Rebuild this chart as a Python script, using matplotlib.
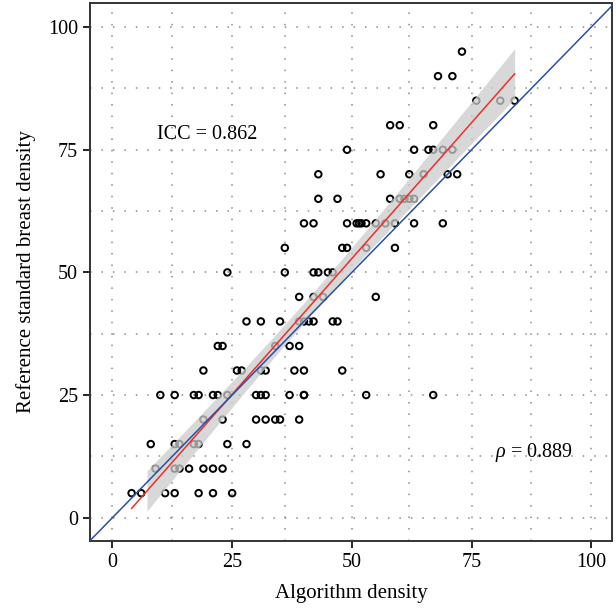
import numpy as np
import matplotlib
import matplotlib.pyplot as plt

matplotlib.use('Agg')

plt.rcParams['font.family'] = ['Liberation Serif', 'DejaVu Serif']
plt.rcParams['mathtext.fontset'] = 'custom'
plt.rcParams['mathtext.it'] = 'Liberation Serif:italic'

# reference standard density rows (5% steps) and algorithm density values read per row
rows = {
    5: [4, 6, 11, 13, 18, 21, 25],
    10: [9, 13, 14, 16, 19, 21, 23],
    15: [8, 13, 14, 17, 18, 24, 28],
    20: [19, 23, 30, 32, 34, 35, 39],
    25: [10, 13, 17, 18, 21, 22, 24, 30, 31, 32, 37, 40, 40, 53, 67],
    30: [19, 26, 27, 31, 32, 38, 40, 48],
    35: [22, 23, 34, 37, 39],
    40: [28, 31, 35, 39, 40, 41, 42, 46, 47],
    45: [39, 42, 44, 55],
    50: [24, 36, 42, 43, 45, 46],
    55: [36, 48, 49, 53, 59],
    60: [40, 42, 49, 51, 51.5, 52, 53, 55, 57, 59, 63, 69],
    65: [43, 47, 58, 60, 61, 62, 63],
    70: [43, 56, 62, 65, 70, 72],
    75: [49, 63, 66, 67, 69, 71],
    80: [58, 60, 67],
    85: [76, 81, 84],
    90: [68, 71],
    95: [73],
}
algorithm = np.array([x for y in rows for x in rows[y]], dtype=float)
reference = np.array([y for y in rows for x in rows[y]], dtype=float)

icc_text = "ICC = 0.862"
rho_text = r"$\it{\rho}$ = 0.889"
ticks = [0, 25, 50, 75, 100]
grid_x = [0, 12.5, 25, 36, 50, 62, 75, 87.5, 100]
grid_y = [0, 12.5, 25, 37.5, 50, 62.5, 75, 87.5, 100]
band_start = 7

# linear fit and 95% confidence band
n = len(algorithm)
slope, intercept = np.polyfit(algorithm, reference, 1)
resid = reference - (intercept + slope * algorithm)
s = np.sqrt(np.sum(resid ** 2) / (n - 2))
xbar = algorithm.mean()
sxx = np.sum((algorithm - xbar) ** 2)
xs = np.linspace(algorithm.min(), algorithm.max(), 200)
fit = intercept + slope * xs
se = s * np.sqrt(1 / n + (xs - xbar) ** 2 / sxx)
lo, hi = fit - 1.98 * se, fit + 1.98 * se
mask = xs >= band_start

fig = plt.figure(figsize=(6.16, 6.11), dpi=100)
ax = fig.add_axes([0.146, 0.115, 0.848, 0.880])

for g in grid_x:
    ax.axvline(g, color='#8a8a8a', lw=1.1, ls=(0, (1, 6.5)), zorder=0)
for g in grid_y:
    ax.axhline(g, color='#8a8a8a', lw=1.1, ls=(0, (1, 6.5)), zorder=0)

ax.scatter(algorithm, reference, s=22, facecolors='none', edgecolors='black',
           linewidths=1.4, zorder=2)
ax.fill_between(xs[mask], lo[mask], hi[mask], color='#cccccc', alpha=0.75,
                lw=0, zorder=3)
ax.plot(xs, fit, color='#e8302c', lw=1.1, zorder=4)
ax.plot([-10, 110], [-10, 110], color='#2b50a2', lw=1.1, zorder=4)

ax.text(9.4, 78.2, icc_text, fontsize=14.5, va='center', ha='left')
ax.text(79.8, 13.2, rho_text, fontsize=14.5, va='center', ha='left')

ax.set_xlim(-4.7, 104.4)
ax.set_ylim(-4.7, 104.9)
ax.set_xticks(ticks)
ax.set_yticks(ticks)
ax.tick_params(labelsize=14.5, length=5, width=1.2, direction='out')
ax.set_xlabel("Algorithm density", fontsize=15, labelpad=9)
ax.set_ylabel("Reference standard breast density", fontsize=15, labelpad=9)
for sp in ax.spines.values():
    sp.set_linewidth(1.4)
    sp.set_color('#333333')

plt.savefig("out.png", dpi=100)
